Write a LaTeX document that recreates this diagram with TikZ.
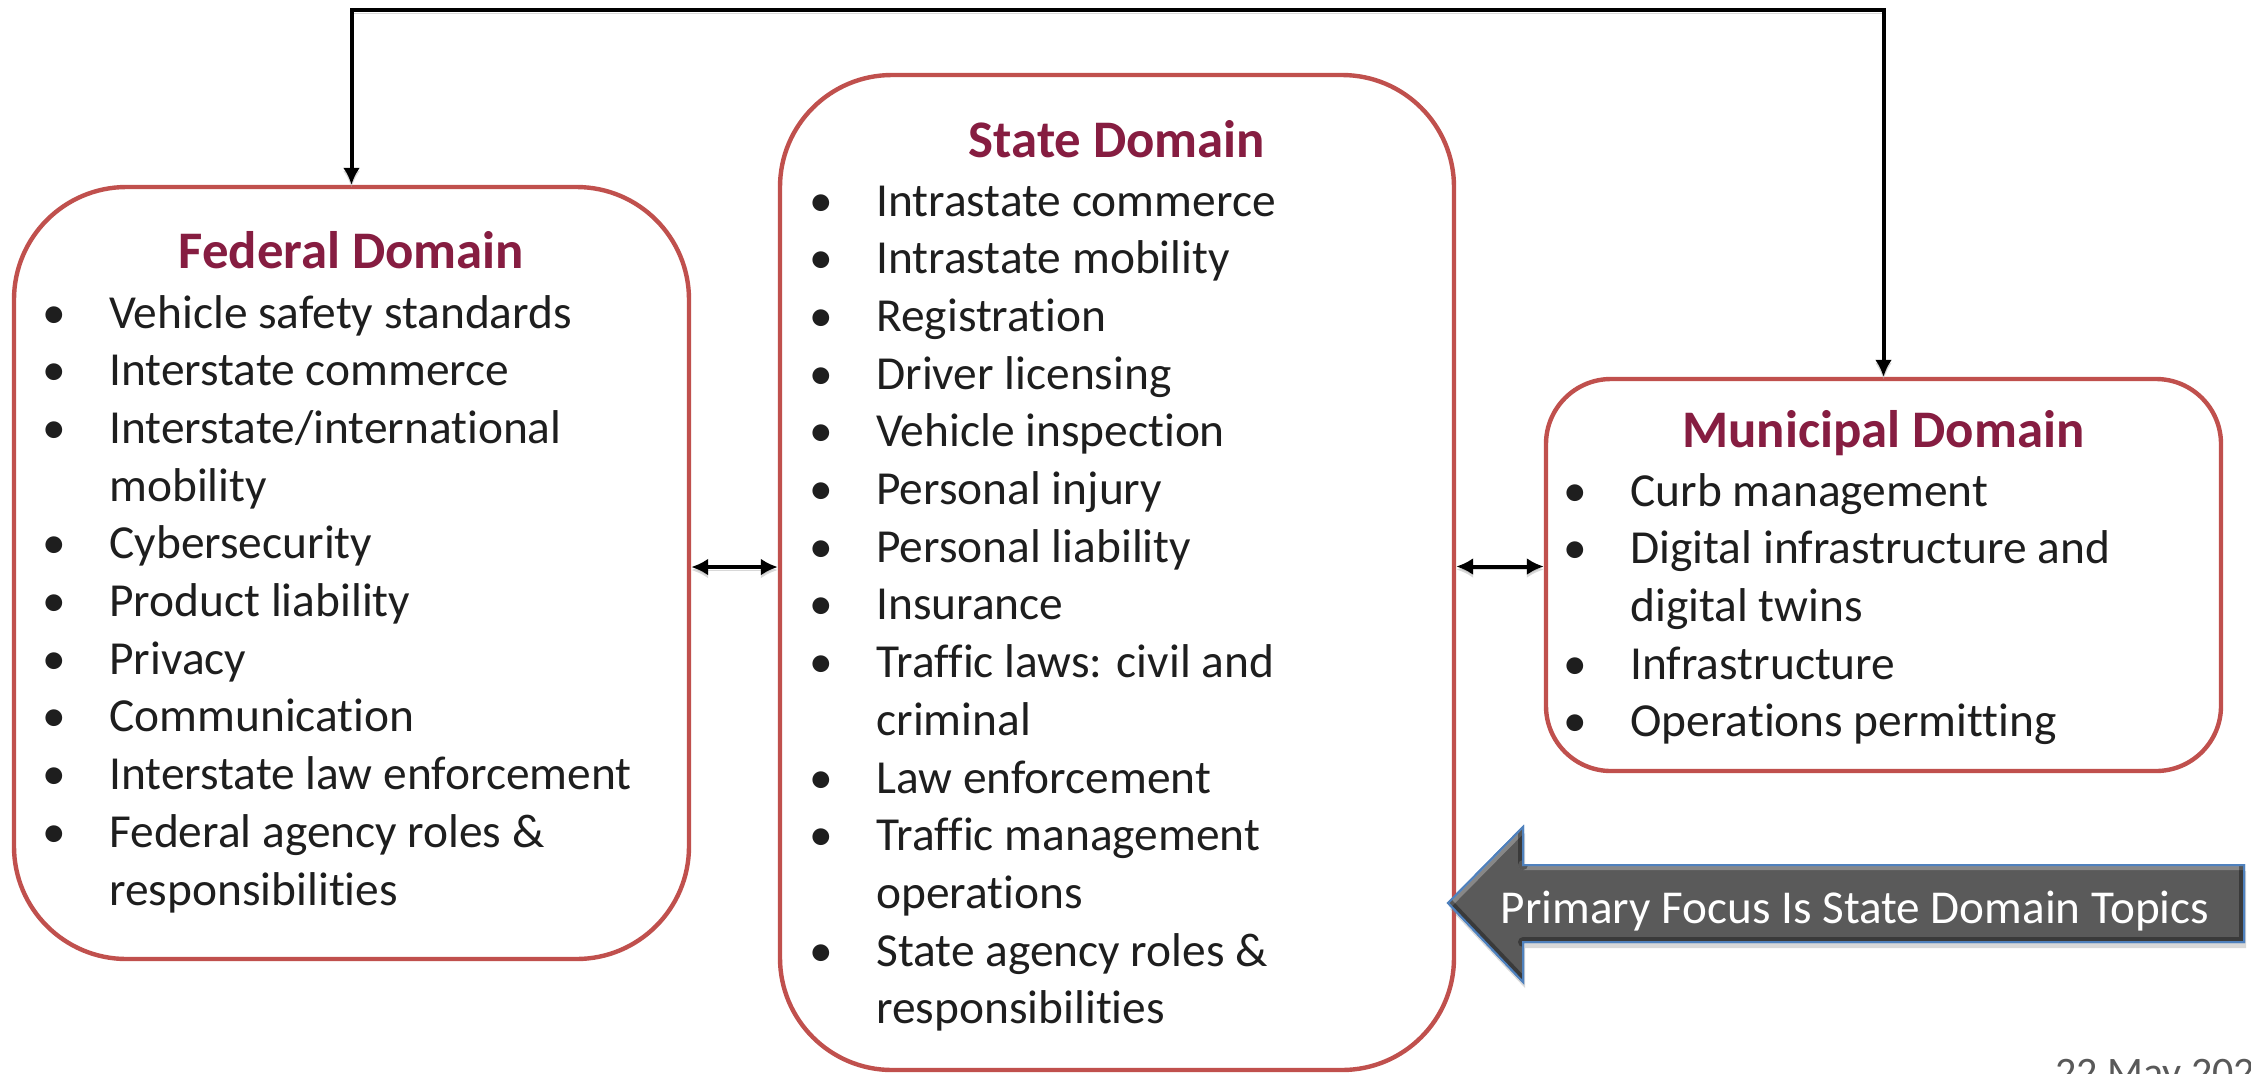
\documentclass[tikz,border=0pt]{standalone}
\usepackage{fontspec}
\setmainfont{Carlito}[Ligatures=NoCommon]
\usetikzlibrary{arrows.meta,shadows,calc}

\definecolor{boxred}{HTML}{C0504D}
\definecolor{titlered}{HTML}{861D41}
\definecolor{bodyink}{HTML}{1E1E1E}
\definecolor{arrowgray}{HTML}{5A5A5A}
\definecolor{arrowblue}{HTML}{4F81BD}
\definecolor{dategray}{HTML}{595959}

% bullet hung to the left of the item text
\newcommand\itm{\leavevmode\llap{\makebox[55pt][c]{\textbullet}}}

\begin{document}
\begin{tikzpicture}[
  x=0.5pt, y=-0.5pt,
  domainbox/.style={draw=boxred, line width=2.2pt, fill=white, inner sep=0pt, rounded corners=#1},
  titletext/.style={font=\fontsize{26.4}{30}\selectfont\bfseries, text=titlered, inner sep=0pt, anchor=base},
  listtext/.style={font=\fontsize{23.7}{28.85}\selectfont, text=bodyink, inner sep=0pt, anchor=base west},
  link/.style={draw=black, line width=2pt,
    preaction={draw=black!30, opacity=0.5, transform canvas={yshift=-1.5pt}}},
  tip/.tip={Latex[length=8.5pt,width=8.5pt]},
  edgelight/.style={draw=white, opacity=0.28, line width=5pt, line cap=round},
  edgedark/.style={draw=black, opacity=0.35, line width=5pt, line cap=round},
]
\useasboundingbox (0,0) rectangle (2251,1073);
\fill[white] (0,0) rectangle (2251,1073);

% the three domains
\node[domainbox=56.25pt, minimum width=337.5pt, minimum height=386pt] (fed) at (351.5,573) {};
\node[domainbox=56pt, minimum width=337pt, minimum height=497.5pt] (state) at (1117,572.5) {};
\node[domainbox=32.5pt, minimum width=337.5pt, minimum height=196pt] (mun) at (1883.5,575) {};

% titles
\node[titletext] (fedtitle) at (351.5,268) {Federal Domain};
\node[titletext] (statetitle) at (1117,157) {State Domain};
\node[titletext] (muntitle) at (1883.5,447) {Municipal Domain};

% topic lists
\node[listtext] (fedlist) at (109,328) {\parbox[t]{290pt}{%
\itm Vehicle safety standards\\
\itm Interstate commerce\\
\itm Interstate/international\\
mobility\\
\itm Cybersecurity\\
\itm Product liability\\
\itm Privacy\\
\itm Communication\\
\itm Interstate law enforcement\\
\itm Federal agency roles \&\\
responsibilities}};

\node[listtext] (statelist) at (876,216) {\parbox[t]{290pt}{%
\itm Intrastate commerce\\
\itm Intrastate mobility\\
\itm Registration\\
\itm Driver licensing\\
\itm Vehicle inspection\\
\itm Personal injury\\
\itm Personal liability\\
\itm Insurance\\
\itm Traffic laws: civil and\\
criminal\\
\itm Law enforcement\\
\itm Traffic management\\
operations\\
\itm State agency roles \&\\
responsibilities}};

\node[listtext] (munlist) at (1630,506) {\parbox[t]{290pt}{%
\itm Curb management\\
\itm Digital infrastructure and\\
digital twins\\
\itm Infrastructure\\
\itm Operations permitting}};

% connectors between domains
\coordinate (topy) at (0,10);
\draw[link, tip-tip] (fed.north) -- (fed.north |- topy) -- (mun.north |- topy) -- (mun.north);
\draw[link, tip-tip] ([yshift=3pt]fed.east) -- ([yshift=3pt]fed.east -| state.west);
\draw[link, tip-tip] ([yshift=3pt]state.east) -- ([yshift=3pt]state.east -| mun.west);

% focus block arrow
\coordinate (atip) at (1448,903);
\filldraw[fill=arrowgray, draw=arrowblue, line width=1pt,
  drop shadow={shadow xshift=1pt, shadow yshift=-3pt, opacity=0.3}]
  (atip) -- (1523,827) -- (1523,865) -- (2244,865) -- (2244,942) -- (1523,942) -- (1523,982) -- cycle;
\begin{scope}
  \clip (atip) -- (1523,827) -- (1523,865) -- (2244,865) -- (2244,942) -- (1523,942) -- (1523,982) -- cycle;
  \draw[edgelight] (atip) -- (1523,827) (1523,865) -- (2244,865);
  \draw[edgedark] (atip) -- (1523,982) (1523,942) -- (2244,942) -- (2244,865) (1523,827) -- (1523,865);
\end{scope}
\draw[draw=arrowblue, line width=1pt]
  (atip) -- (1523,827) -- (1523,865) -- (2244,865) -- (2244,942) -- (1523,942) -- (1523,982) -- cycle;
\node[font=\fontsize{23.6}{28}\selectfont, text=white, inner sep=0pt, anchor=base] (focus) at (1855,923)
  {Primary Focus Is State Domain Topics};

% date footer
\node[font=\fontsize{21}{25}\selectfont, text=dategray, inner sep=0pt, anchor=base west] (date) at (2055,1086) {22 May 202};
\end{tikzpicture}
\end{document}
